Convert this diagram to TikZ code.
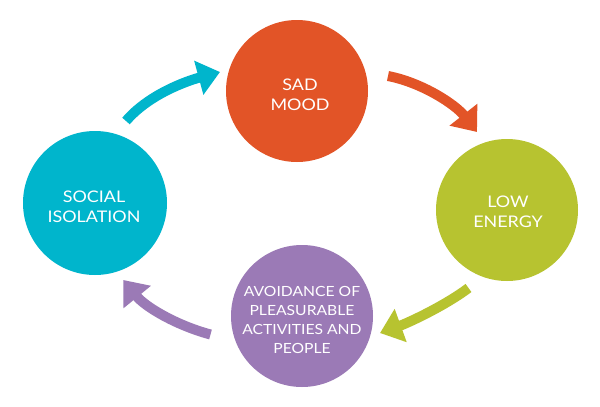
\documentclass[tikz,border=0pt]{standalone}
\usepackage{fontspec}
\setmainfont{Lato}
\newfontfamily\bubblefont[FakeStretch=1.12]{Lato}
\usetikzlibrary{arrows.meta}
\definecolor{cOrange}{HTML}{E25427}
\definecolor{cGreen}{HTML}{B7C330}
\definecolor{cPurple}{HTML}{9B7AB6}
\definecolor{cCyan}{HTML}{00B5CC}
\begin{document}
\begin{tikzpicture}[x=1pt,y=-1pt,
  bubble/.style={circle, inner sep=0pt, minimum size=142pt},
  label text/.style={text=white, align=center, inner sep=0pt,
    font=\bubblefont\fontsize{16}{20.5}\selectfont},
  small text/.style={label text, font=\bubblefont\fontsize{14}{18.8}\selectfont},
  cyc/.style={line width=10pt, -{Triangle[width=34pt,length=22pt]}}]
\useasboundingbox (0,0) rectangle (600,407);
\fill[white] (0,0) rectangle (600,407);
\node[bubble, fill=cOrange] (sad) at (297,91) {};
\node[bubble, fill=cGreen] (low) at (507,210) {};
\node[bubble, fill=cPurple] (avoid) at (302,316) {};
\node[bubble, fill=cCyan, minimum size=144pt] (social) at (95,203) {};
\node[label text] (sadT) at (300,95) {SAD\\MOOD};
\node[label text] (lowT) at (508,212) {LOW\\ENERGY};
\node[small text] (avoidT) at (302,320) {AVOIDANCE OF\\PLEASURABLE\\ACTIVITIES AND\\PEOPLE};
\node[label text] (socialT) at (94,207) {SOCIAL\\ISOLATION};
% arrow end points
\coordinate (cS) at (126,121);   \coordinate (cE) at (220,72);
\coordinate (oS) at (388,76);    \coordinate (oE) at (477,132);
\coordinate (gS) at (468.5,288); \coordinate (gE) at (380,333);
\coordinate (pS) at (210.5,334.5); \coordinate (pE) at (123.3,280);
\draw[cyc, cCyan] (cS) .. controls (148.8,94.4) and (186.4,81.1) .. (cE);
\draw[cyc, cOrange] (oS) .. controls (422.3,82.7) and (455.3,104.4) .. (oE);
\draw[cyc, cGreen] (gS) .. controls (444.5,306) and (408.2,322.8) .. (gE);
\draw[cyc, cPurple] (pS) .. controls (176.5,325.4) and (145.4,307) .. (pE);
\end{tikzpicture}
\end{document}
